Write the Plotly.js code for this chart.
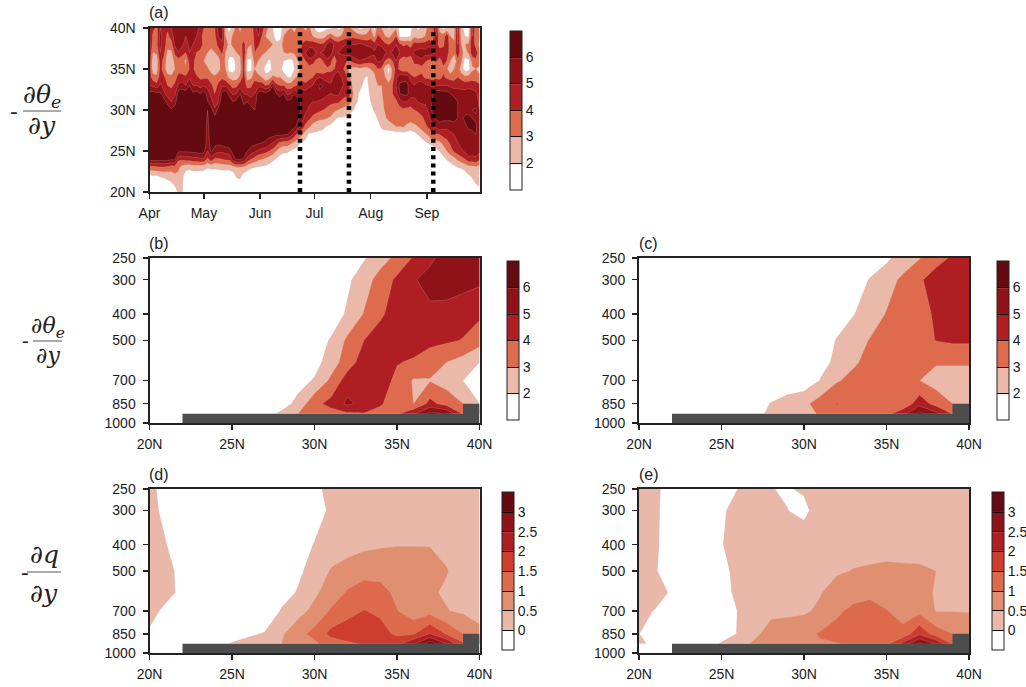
<!DOCTYPE html>
<html><head><meta charset="utf-8">
<script src="https://cdn.plot.ly/plotly-3.0.1.min.js"></script>
<style>html,body{margin:0;padding:0;background:#fff}#c{width:1026px;height:687px}</style></head>
<body><div id="c"></div>
<script>
const W=1026,H=687;
const lats=[20,21,22,23,24,25,26,27,28,29,30,31,32,33,34,35,36,37,38,39,40];
const pressures=[250,300,400,500,600,700,850,925];
const days=[0,2,4,6,8,10,12,14,16,18,20,22,24,26,28,30,32,34,36,38,40,42,44,46,48,50,52,54,56,58,60,62,64,66,68,70,72,74,76,78,80,82,84,86,88,90,92,94,96,98,100,102,104,106,108,110,112,114,116,118,120,122,124,126,128,130,132,134,136,138,140,142,144,146,148,150,152,154,156,158,160,162,164,166,168,170,172,174,176,178,180,182];
const monthDays=[0,30,61,91,122,153];
const monthNames=['Apr','May','Jun','Jul','Aug','Sep'];
const onsetDays=[83,110,156.5];
const latTicks=[20,25,30,35,40];
const latLabels=['20N','25N','30N','35N','40N'];
const pTicks=[250,300,400,500,700,850,1000];
const terrainLat=[22,22,39,39,40,40,22];
const terrainP=[1000,925,925,850,850,1000,1000];
const thetaLevels=[2,3,4,5,6];
const qLevels=[0,0.5,1,1.5,2,2.5,3];
const thetaColors=['#ffffff','#EBB9A9','#DE6B4D','#AE1E23','#8E1218','#650A10'];
const qColors=['#ffffff','#EAB8A8','#E18F71','#DE6A4C','#CF3D2F','#AE1E23','#8E1218','#650A10'];

// panel (a): one profile per day in days, 20N to 40N
const zA=[
[1,1.5,1.9,3.5,6.4,7,7,7,7,7,7,7,6.3,5,4.6,4.6,4.8,5,5.2,5,4.8],
[1,1.6,2,3.6,6.4,7,7,7,7,7,7,7,6.4,4.8,3.4,2.4,2.2,3,3.6,3.8,4.2],
[1,1.6,2,3.8,6.4,7,7,7,7,7,7,7,6.2,4.4,3.2,2.6,2.4,3.2,3.8,3.6,3.8],
[1,1.5,2.1,3.9,6.4,7,7,7,7,7,7,7,6.2,5.2,4.6,4.4,4.6,5,5.2,5.4,5],
[1,1.5,2.2,3.9,6.4,7,7,7,7,7,7,6.5,5.2,4.6,4.2,3.4,3.6,4.2,4.6,4.4,4],
[1,1.6,2.4,3.7,6.4,7,7,7,7,7,6.8,5.6,4.6,4,3.4,2.4,2.4,2.8,3.4,3.8,4.2],
[1,1.8,2.6,3.4,6.2,7,7,7,7,7,6.2,5,4.4,3.8,3.2,2.4,2.2,2.8,3.6,4.4,5],
[1.4,2.2,2.8,3.6,6.2,7,7,7,7,6.6,6.4,5.6,4.8,4.2,3.6,3,3.4,4.2,5.2,5.6,5.6],
[2.2,2.4,2.8,3.2,4.2,6.2,7,7,7,7,7,7,6.5,5.2,4.4,3.6,3.6,5,5.6,5.8,5.6],
[2.1,2.2,2.2,2.6,4.2,6.2,7,7,7,7,7,7,6.8,5.4,4.4,3.4,3.4,4.4,5.2,5.6,5.4],
[1,1.2,1.6,2.3,4.4,6.2,7,7,7,7,7,7,6.6,5,4.2,3.2,2.8,4,4.6,5,5.4],
[1,1.1,1.5,2.2,4.4,6.2,7,7,7,7,7,7,7,6,4.8,4,4.4,5,5.2,5.4,5.6],
[1,1.1,1.5,2.4,4.6,6.3,7,7,7,7,7,7,6.2,5,4.6,4.2,4.4,4.8,5,5.2,5.4],
[1,1.1,1.5,2.4,4.6,6.4,7,7,7,7,7,7,6.4,5,4.2,3.4,3.4,4,4.6,5,5.6],
[1,1.1,1.5,2.4,4.8,6.6,7,7,7,7,7,6.8,6,4.6,3.8,3.2,3.2,3.8,4.4,4.4,4.6],
[1,1,1.5,2.3,4.8,6.3,7,7,7,7,7,7,6.6,4.8,3.8,3.2,3,3.4,3.8,3.6,4],
[1,1,1.4,2.1,3.8,5,5.4,5.4,5.6,5.8,6,6.1,5.6,4.6,3.9,3.2,2.4,3,3.4,3.4,3.6],
[1,1,1.3,2.2,4.6,6.2,6.6,7,7,7,6.5,5.4,4.6,4.2,3.4,2.6,2,2.8,3.2,3.6,3.8],
[1,1,1.2,2.2,3.8,5.6,6.3,7,7,6.4,5.2,4.4,4,3.6,3.2,2.2,2.2,3,3.4,3.8,4],
[1,1,1.2,2.3,3.9,5.2,6.3,7,7,7,6.5,5,4.6,4.2,3.6,2.6,2.6,3.4,4.4,5,5.4],
[1,1,1.2,2.4,4,5.2,6.4,7,7,7,7,7,6.3,4.8,3.8,3.4,3.6,4.2,4.8,5.4,5.6],
[1,1,1.2,2.4,4.2,5.4,6.6,7,7,7,7,7,6.8,4.8,3.4,3,2.8,3,3.4,3,2.4],
[1,1,1.2,2.4,4.2,5.6,6.6,7,7,7,7,7,5.6,4.2,2.8,1.6,1.6,2.4,2.8,2.4,1.6],
[1,1,1.4,2.6,5.4,6.4,7,7,7,7,7,6,4.8,3.6,2.6,1.5,1.5,2.6,3.2,3.2,2.4],
[1,1.5,2.2,2.9,6.2,6.8,7,7,7,7,7,6.4,5,3.8,2.6,2.2,2.4,3,3.4,3.6,3.4],
[1,1.6,2.3,2.9,6.1,6.7,7,7,7,7,7,7,6,4.6,3.2,2.6,2.8,3.2,3.6,3.2,2.8],
[1,1,1.6,2.8,5.8,6.6,7,7,7,7,6.8,5.6,5,4.8,4.6,4.4,4.6,4.6,4.4,3.4,3.6],
[1,1,1.5,2.4,4.6,6,6.6,7,7,7,7,6,4.8,3.6,2.6,1.7,1.8,2.8,3.2,3.4,3.2],
[1,1,1.4,2.1,4,5.6,6.4,7,7,7,6.6,5.4,4.6,3.8,2.8,1.8,1.8,2.6,3,3.2,3.4],
[1,1,1.3,2,3.6,5.2,6.3,7,6.8,6.8,6,5.4,5,4.6,3.6,3,3.4,4,4.2,4.4,4.6],
[1,1,1.2,1.9,3.2,4.8,6.2,7,6.8,7,7,7,6.4,4.6,3.2,2.6,3,3.4,4.2,5,5.4],
[1,1,1.1,1.8,3,4.6,6,6.8,7,7,7,7,6.6,4.6,3,2.4,2.6,3.2,3.6,4,4.6],
[1,1,1,1.8,2.8,4.4,5.8,6.6,7,6.6,7,7,6.2,4,2.2,1.7,2.4,3,3.2,3,3.4],
[1,1,1,1.6,2.5,4,5.4,6.4,7,7,7,7,6.8,4.2,2.6,1.6,1.8,2.8,3.2,2.8,2.8],
[1,1,1,1.4,2.2,3.6,5,6.3,7,7,7,7,7,6,3.2,2.2,2.4,3,3,2.2,2],
[1,1,1,1.3,1.9,3,4.4,6.2,7,7,7,7,6,4.2,3,2.4,2.4,2.6,2.2,1.6,1.4],
[1,1,1,1.2,1.6,2.4,3.8,6.2,7,7,7,7,5.4,4,3,2.2,2.2,2.6,2.4,1.6,1.4],
[1,1,1,1.1,1.4,2.2,3.6,6.1,7,7,7,7,6,4,2.4,1.7,2,3,3.4,3,2.6],
[1,1,1,1,1.3,2.2,3.6,6,6.9,7,7,6.2,4.8,3.4,2,1.6,1.8,3.2,3.6,3.4,2.8],
[1,1,1,1,1.2,1.9,3.2,5.4,6.6,7,7,6.5,5,3.4,2,1.5,1.7,3,3.4,3.2,3],
[1,1,1,1,1.2,1.7,2.8,4.4,6.3,7,7,7,6,3.8,2.8,2,2.2,3.2,3.4,3.2,2.8],
[1,1,1,1,1.1,1.5,2.3,3.6,5.4,6.2,6.6,6.4,5.2,4.2,3.2,2.8,3,3.6,3.6,3.4,3.2],
[1,1,1,1,1,1.4,1.9,3.2,4.6,5.4,5.8,5.8,5.4,4.6,3.6,3.2,3.4,4.2,4,3.6,3.2],
[1,1,1,1,1,1.3,1.7,2.4,3.8,4.6,5.2,5.4,5.4,4.4,3.2,3,4,5,4.6,3.4,2.8],
[1,1,1,1,1,1.2,1.5,1.8,3.2,4.2,4.8,5.2,5.6,4.8,3.6,3.4,4.8,5.6,4.6,3.2,3.2],
[1,1,1,1,1,1.1,1.4,1.8,2.6,3.8,4.4,5,5.4,5,4,3.2,4.6,5.6,4.6,3,2.4],
[1,1,1,1,1,1,1.4,1.8,2.4,3.4,4.4,5,5.6,5.6,4.8,3.4,3.8,5,4.4,2.6,1.6],
[1,1,1,1,1,1,1.3,1.7,2.3,3.2,4.2,4.8,5.8,6.2,5,3,3.4,5,4.2,2.4,1.5],
[1,1,1,1,1,1,1.2,1.6,2.2,3.2,4,4.6,5.6,6,4.6,3.2,4.2,5.2,4.2,2.6,1.6],
[1,1,1,1,1,1,1.1,1.4,1.9,3,3.8,4.4,5.2,5.4,4.4,3.8,4.8,5.8,5.2,3.2,1.8],
[1,1,1,1,1,1,1,1.3,1.7,2.8,3.6,4.2,5,5.2,4.4,3.8,4.2,5.4,5.8,3.6,1.8],
[1,1,1,1,1,1,1,1.2,1.5,2.2,3.2,4.2,5.2,5.8,5.4,4,3.4,4.4,4.8,3,2.4],
[1,1,1,1,1,1,1,1.1,1.4,1.9,3,4.2,5.2,5.8,5.6,4.8,4.6,5,4.6,2.8,1.8],
[1,1,1,1,1,1,1,1.1,1.4,1.9,2.8,3.8,4.6,5.2,5,4.2,4.4,5.2,4.8,3.2,2],
[1,1,1,1,1,1,1,1.1,1.3,1.8,2.6,3.4,4.4,4.8,4.4,3.8,4.2,5.4,5,3.6,3.4],
[1,1,1,1,1,1,1,1,1.2,1.7,2.4,3.6,4.6,4.2,3.4,2.8,3.8,5.6,5.2,3.6,3.2],
[1,1,1,1,1,1,1,1,1.1,1.4,2.1,2.8,3.2,2.8,2.4,2.6,4.4,5.6,5,3.8,2.8],
[1,1,1,1,1,1,1,1,1,1.3,1.7,2.1,2.2,2.3,2.4,2.6,4.8,5.6,5,3.6,2.2],
[1,1,1,1,1,1,1,1,1,1.2,1.5,1.8,1.9,2.2,2.4,2.8,5,5.6,5.2,3.4,1.8],
[1,1,1,1,1,1,1,1,1,1.1,1.3,1.6,1.8,1.9,2.1,2.6,4.8,5.8,5,3.2,2],
[1,1,1,1,1,1,1,1,1,1,1.2,1.4,1.6,1.8,1.9,2.6,4.6,5.8,4.8,3.2,2.6],
[1,1,1,1,1,1,1,1,1,1.3,1.7,2,2.2,2.4,2.6,3,4.4,5.4,4.8,3.6,3],
[1,1,1,1,1,1,1,1,1.1,1.6,2.1,2.3,2.4,2.6,2.8,3.2,4.6,5.2,4.4,2.8,1.6],
[1,1,1,1,1,1,1,1.2,1.6,2.1,2.4,2.6,2.8,3,3.6,4,5.2,5.6,5,4.2,3.6],
[1,1,1,1,1,1,1,1.5,2.2,2.6,2.7,2.8,2.9,3,3.4,3.8,5,5.6,4.8,3.6,3],
[1,1,1,1,1,1,1,1.5,2.4,2.9,3.1,3.2,3.4,3.4,3,2.4,4,5.2,4.2,3,2.4],
[1,1,1,1,1,1,1,1.4,2.6,3.2,3.4,3.6,3.8,3.4,2.2,1.7,3.6,4.8,4,2.8,1.8],
[1,1,1,1,1,1,1,1.4,2.8,3.4,3.5,3.7,4,4,3.4,3.2,4,5.2,4.4,3.2,2.6],
[1,1,1,1,1,1,1,1.5,3,3.4,3.6,3.8,4.6,5,4.8,4.4,5,5.6,5,4,2.8],
[1,1,1,1,1,1,1,1.5,3,3.4,3.6,4.6,6,6.2,5.6,3.8,3.8,5,4.2,1.8,1.6],
[1,1,1,1,1,1,1,1.6,3.1,3.6,3.8,5,6.2,6.3,5.6,3.4,3.2,4.8,3.8,1.8,1.5],
[1,1,1,1,1,1,1,1.5,2.8,3.5,3.6,5,6.3,6.3,5.6,3.4,3.4,5,4,1.8,1.6],
[1,1,1,1,1,1,1,1.4,2.6,3.4,3.6,4.6,5.4,5.4,4.6,3,3.2,4.6,3.6,2,1.7],
[1,1,1,1,1,1,1.1,1.6,2.8,3.4,4,4.8,5.2,5,4,3.4,4.4,5.2,4.4,2.8,2.6],
[1,1,1,1,1,1,1.2,2,3,3.4,4.2,5,5.6,5.6,4.2,3.2,4.6,5.4,4.4,2.4,1.8],
[1,1,1,1,1,1,1.5,2.4,3.4,3.8,4.4,5.2,5.6,5.6,4.4,3.6,4.8,5.6,4.4,2.6,2.2],
[1,1,1,1,1,1,1.8,2.8,3.8,4.2,4.6,5.2,5.6,5.2,3.8,3.2,4.2,5.4,4.4,3,2.8],
[1,1,1,1,1,1.1,2.1,3.2,4.2,4.8,5.2,5.6,5.6,5,3.8,3.2,3.8,5.6,4.8,3.4,3.2],
[1,1,1,1,1,1.3,2.4,3.8,4.8,5.6,6.2,6.2,5.8,4.8,3.6,3,3.6,5.4,4.4,3.2,3.6],
[1,1,1,1,1,1.6,2.6,3.9,5.2,6.1,6.8,7,6.6,5,3.8,3.4,4.2,4.8,4.6,5,5.2],
[1,1,1,1,1,2,2.8,4,5.6,6.4,7,7,6.6,5,3.6,3,3.6,4.6,3.6,3.4,2.6],
[1,1,1,1.1,1.6,2.6,3.2,4.4,5.4,6.3,7,7,6.4,5,4.2,3.8,4.4,4.4,3.8,3.4,1.8],
[1,1,1,1.2,2.1,3,3.6,4.6,5.2,6.3,7,7,6.4,5,3.8,3.2,4,4.4,4.8,4.8,2.2],
[1,1,1,1.5,2.4,3.6,4.2,4.8,5.4,6.3,6.8,6.8,6,4.8,3.6,2.2,3,3.6,3.4,3,2.8],
[1,1,1,1.8,2.6,4.2,4.6,5,5.6,6.3,6.6,6.6,5.6,4.6,3.6,3,1.8,3.4,3.2,2.8,2.8],
[1,1,1.1,2,3.2,4.6,5,5.2,5.6,6,6,6,5.4,4.8,4,3.8,3.8,4.8,5,5.2,5],
[1,1,1.3,2.1,3.6,4.8,5.4,5.4,5.6,5.8,5.4,5.2,5.2,4.8,3.6,2.4,3.2,3.4,3,2.6,2.4],
[1,1.1,1.6,2.3,4,5.2,5.6,5.6,5.8,6.2,5.6,5.2,5.4,4.6,3.2,1.6,1.6,2.6,3,2,1.6],
[1,1.4,1.9,2.6,4.6,5.8,5.6,5.6,6.2,6.4,5.6,5.4,5.6,4.6,3.4,1.6,1.8,3.2,3.2,1.9,1.7],
[1.4,1.8,2.1,2.7,4.6,5.6,5.4,5.8,6.2,6,6,5.6,5.4,4.6,3.6,2.8,3.4,4.6,4.8,5,5.2],
[1.8,2,2.4,2.8,4.8,5.4,5.2,6,6.2,5.8,6.2,5.4,5.2,4.4,3.6,3,3.8,4.6,3.6,3.2,3.4],
[1.6,2.2,1.8,2.6,4.2,5.2,5,5.6,5.4,5,5,4.8,4.6,4.2,3.2,2.6,3.6,3.2,2.8,3,3.6]
];
// panels (b)-(e): one row per pressure in pressures, 20N to 40N
const zB=[
[1,1,1,1,1,1,1,1,1,1.1,1.2,1.3,1.5,1.9,2.6,3.25,4.1,4.75,5.5,5.6,5.6],
[1,1,1,1,1,1,1,1,1,1.1,1.2,1.4,1.8,2.55,3.4,4.2,4.9,5.4,5.7,5.4,5.2],
[1,1,1,1,1,1,1,1,1,1.1,1.2,1.4,2.15,3.05,3.9,4.3,4.55,4.76,4.53,4.4,4.2],
[1,1,1,1,1,1,1,1,1,1.2,1.5,2.1,3.2,4,4.3,4.4,4.4,4.3,4.15,3.95,3.4],
[1,1,1,1,1,1,1,1,1,1.3,1.6,2.5,3.5,4.5,4.5,4.05,3.9,3.4,3,2.6,2],
[1,1,1,1,1,1,1,1,1.2,1.6,2.1,3.2,4.5,4.6,4.4,3.8,2.9,2.95,2.6,2,1.6],
[1,1,1,1,1,1,1,1,1.55,2.3,3.7,4.3,5.2,4.7,4.1,3.5,3,4.3,3.6,3,2],
[1,1,1,1,1,1,1,1.6,2.2,3,3.3,3.6,3.85,3.95,3.7,3.85,4.8,6.3,5.9,3.9,3.9]
];
const zC=[
[1,1,1,1,1,1,1,1,1,1,1,1,1,1.2,1.5,1.8,2.45,2.95,3.6,4.15,4.4],
[1,1,1,1,1,1,1,1,1,1,1,1,1.2,1.6,2.05,2.6,3.2,3.85,4.5,4.7,4.8],
[1,1,1,1,1,1,1,1,1,1,1,1.3,1.6,1.95,2.5,3.05,3.4,3.75,4.1,4.6,4.7],
[1,1,1,1,1,1,1,1,1,1,1.3,1.55,2.05,2.6,3.05,3.3,3.5,3.7,4.02,4.15,4.15],
[1,1,1,1,1,1,1,1,1,1,1.4,1.7,2.2,2.85,3.3,3.4,3.45,3.4,3.1,3.15,3.15],
[1,1,1,1,1,1,1,1,1,1.2,1.35,2.05,2.9,3.3,3.5,3.45,3.2,3.01,2.6,2.4,2.4],
[1,1,1,1,1,1,1,1.5,2.05,2.5,2.75,3.45,4.03,3.7,3.5,3.3,3.2,4.6,3.6,3,2.5],
[1,1,1,1,1,1,1,1.7,2.2,2.5,2.7,3.1,3.4,3.5,3.5,3.7,4.7,6.27,5.3,3.95,3.9]
];
const zD=[
[0.1,-0.14,-0.2,-0.2,-0.2,-0.2,-0.2,-0.2,-0.2,-0.15,-0.05,0.06,0.1,0.12,0.14,0.15,0.16,0.18,0.2,0.2,0.2],
[0.11,-0.09,-0.2,-0.2,-0.2,-0.2,-0.2,-0.2,-0.2,-0.2,-0.1,0.04,0.15,0.2,0.25,0.25,0.28,0.3,0.3,0.25,0.2],
[0.2,0.01,-0.2,-0.2,-0.2,-0.2,-0.2,-0.2,-0.2,-0.1,0.01,0.15,0.28,0.38,0.44,0.47,0.47,0.46,0.4,0.3,0.2],
[0.15,0.1,-0.1,-0.2,-0.2,-0.2,-0.2,-0.2,-0.15,-0.05,0.1,0.55,0.72,0.85,0.85,0.87,0.87,0.9,0.52,0.35,0.25],
[0.15,0.1,-0.08,-0.2,-0.2,-0.2,-0.2,-0.2,-0.1,0.02,0.4,0.75,1.05,1.2,1.15,0.9,0.8,0.55,0.45,0.3,0.25],
[0.12,-0.08,-0.2,-0.2,-0.2,-0.2,-0.2,-0.2,0.02,0.3,0.65,1.05,1.3,1.52,1.4,1.02,0.7,0.8,0.52,0.42,0.3],
[-0.05,-0.2,-0.2,-0.2,-0.2,-0.2,-0.05,0.02,0.42,0.85,1.15,1.65,1.85,1.95,1.7,1.4,1.45,2.02,1.45,1,0.65],
[-0.1,-0.1,-0.1,-0.1,-0.1,0.03,0.1,0.3,0.5,0.65,0.9,1.25,1.4,1.55,1.6,1.85,2.45,3.3,2.5,1.6,1.5]
];
const zE=[
[0.2,0.05,-0.12,-0.2,-0.2,-0.2,0.005,0.1,0.01,-0.03,0.05,0.15,0.2,0.22,0.25,0.25,0.25,0.25,0.25,0.25,0.25],
[0.2,0.05,-0.15,-0.2,-0.2,-0.06,0.14,0.15,0.1,0.005,-0.1,0.2,0.25,0.3,0.3,0.3,0.3,0.3,0.3,0.3,0.3],
[0.2,0.04,-0.15,-0.2,-0.2,-0.02,0.15,0.2,0.2,0.2,0.25,0.3,0.3,0.32,0.35,0.36,0.36,0.36,0.33,0.3,0.3],
[0.2,0.02,-0.15,-0.2,-0.2,-0.1,0.1,0.2,0.25,0.3,0.35,0.4,0.44,0.52,0.55,0.58,0.56,0.55,0.5,0.4,0.35],
[0.2,0.15,-0.05,-0.2,-0.2,-0.1,0.06,0.2,0.3,0.32,0.38,0.47,0.72,0.75,0.85,0.8,0.7,0.7,0.45,0.4,0.4],
[0.1,-0.02,-0.2,-0.2,-0.2,-0.1,0.005,0.2,0.35,0.4,0.42,0.6,0.9,1.15,1.25,1.02,0.8,0.85,0.48,0.48,0.48],
[0.003,-0.1,-0.2,-0.2,-0.15,-0.05,0.005,0.35,0.75,0.75,0.85,1.05,1.2,1.3,1.35,1.3,1.15,1.9,1.25,1,0.75],
[0.08,-0.1,-0.1,-0.1,-0.05,0.01,0.3,0.6,0.75,0.8,0.85,0.95,0.98,1.05,1.15,1.4,2.15,3.1,2.45,1.45,1.4]
];

const fx=p=>p/W, fy=p=>1-p/H;
const font={family:'"Liberation Sans",Arial,sans-serif',size:14,color:'#1a1a1a'};
const scale=cols=>{const n=cols.length,s=[];cols.forEach((c,i)=>{s.push([i/n,c]);s.push([(i+1)/n,c]);});return s;};
function cbar(px,top,bot,levels){return {x:fx(px),xanchor:'left',y:fy(top),yanchor:'top',len:bot-top,lenmode:'pixels',thickness:12,thicknessmode:'pixels',xpad:0,ypad:0,
  outlinecolor:'#222',outlinewidth:1,tickmode:'array',tickvals:levels,ticktext:levels.map(String),ticks:'inside',ticklen:12,tickwidth:1,tickcolor:'#111',tickfont:font,borderwidth:0};}
function contour(x,y,z,levels,cols,sub,cb,extra){
  const step=levels[1]-levels[0];
  return Object.assign({type:'contour',x,y,z,xaxis:'x'+sub,yaxis:'y'+sub,autocontour:false,
    contours:{start:levels[0],end:levels[levels.length-1],size:step,coloring:'fill',showlines:true},
    line:{width:0.5,color:'rgba(215,175,165,0.55)',smoothing:0},
    zmin:levels[0]-step,zmax:levels[levels.length-1]+step,zauto:false,colorscale:scale(cols),colorbar:cb,hoverinfo:'skip'},extra||{});
}
function terrain(sub){return {type:'scatter',x:terrainLat,y:terrainP,xaxis:'x'+sub,yaxis:'y'+sub,mode:'lines',line:{width:0},fill:'toself',fillcolor:'#4d4d4d',showlegend:false,hoverinfo:'skip'};}

const data=[
 contour(days,lats,zA,thetaLevels,thetaColors,'',cbar(510,30.5,189,thetaLevels),{transpose:true}),
 contour(lats,pressures,zB,thetaLevels,thetaColors,'2',cbar(507.3,261,420,thetaLevels)),terrain('2'),
 contour(lats,pressures,zC,thetaLevels,thetaColors,'3',cbar(997.3,261,420,thetaLevels)),terrain('3'),
 contour(lats,pressures,zD,qLevels,qColors,'4',cbar(501.7,492.3,650.7,qLevels)),terrain('4'),
 contour(lats,pressures,zE,qLevels,qColors,'5',cbar(991.7,492.3,650.7,qLevels)),terrain('5')
];
onsetDays.forEach(d=>data.push({type:'scatter',x:[d,d],y:[20,40],xaxis:'x',yaxis:'y',mode:'lines',line:{color:'#000',width:4.5,dash:'4px,4.2px'},showlegend:false,hoverinfo:'skip'}));

const base={showline:true,mirror:true,linecolor:'#222',linewidth:2,ticks:'outside',ticklen:5,tickwidth:1.5,tickcolor:'#222',tickfont:font,showgrid:false,zeroline:false};
const xLat=(a,b)=>Object.assign({},base,{domain:[fx(a),fx(b)],range:[20,40],tickmode:'array',tickvals:latTicks,ticktext:latLabels,tickangle:0,ticklabelstandoff:2});
const yP=(t,b)=>Object.assign({},base,{domain:[fy(b),fy(t)],type:'log',range:[3,Math.log10(250)],autorange:false,tickmode:'array',tickvals:pTicks,ticktext:pTicks.map(String),ticklabelstandoff:4});
const L1=149.5,R1=479.5,L2=639,R2=969;

const ann=[];
const txt=(x,y,t,size,extra)=>ann.push(Object.assign({xref:'paper',yref:'paper',x:fx(x),y:fy(y),text:t,showarrow:false,xanchor:'center',yanchor:'middle',font:{family:'"DejaVu Serif",serif',size:size,color:'#222'}},extra||{}));
const sansLabel=(x,y,t)=>txt(x,y,t,16,{xanchor:'left',font:{family:'"Liberation Sans",Arial,sans-serif',size:16,color:'#222'}});
sansLabel(147,12,'(a)');sansLabel(147,243,'(b)');sansLabel(637,243,'(c)');sansLabel(147,474,'(d)');sansLabel(637,474,'(e)');
const shapes=[];
function frac(minusX,x0,x1,yBar,num,den,size,upper,lower){
  txt(minusX,yBar,'-',size-2);
  txt((x0+x1)/2,yBar-upper,num,size);
  txt((x0+x1)/2,yBar+lower,den,size);
  shapes.push({type:'line',xref:'paper',yref:'paper',x0:fx(x0),x1:fx(x1),y0:fy(yBar),y1:fy(yBar),line:{color:'#555',width:1}});
}
const theta='<i>∂θ<sub>e</sub></i>', dy='<i>∂y</i>', dq='<i>∂q</i>';
frac(14,23,61,111,theta,dy,25,15,15);
frac(25,33,62,341,theta,dy,22,14,14);
frac(25,27,61,572,dq,dy,25,18,21);

const layout={width:W,height:H,margin:{l:0,r:0,t:0,b:0,autoexpand:false},paper_bgcolor:'#fff',plot_bgcolor:'#fff',showlegend:false,font:font,annotations:ann,shapes:shapes,
 xaxis:Object.assign({},base,{domain:[fx(L1),fx(R1)],range:[0,182],tickmode:'array',tickvals:monthDays,ticktext:monthNames,anchor:'y',ticklabelstandoff:2}),
 yaxis:Object.assign({},base,{domain:[fy(192),fy(28)],range:[20,40],tickmode:'array',tickvals:latTicks,ticktext:latLabels,anchor:'x',ticklabelstandoff:4}),
 xaxis2:Object.assign(xLat(L1,R1),{anchor:'y2'}),yaxis2:Object.assign(yP(258,423),{anchor:'x2'}),
 xaxis3:Object.assign(xLat(L2,R2),{anchor:'y3'}),yaxis3:Object.assign(yP(258,423),{anchor:'x3'}),
 xaxis4:Object.assign(xLat(L1,R1),{anchor:'y4'}),yaxis4:Object.assign(yP(489,653),{anchor:'x4'}),
 xaxis5:Object.assign(xLat(L2,R2),{anchor:'y5'}),yaxis5:Object.assign(yP(489,653),{anchor:'x5'})
};
Plotly.newPlot('c',data,layout,{displayModeBar:false,staticPlot:true});
</script></body></html>
